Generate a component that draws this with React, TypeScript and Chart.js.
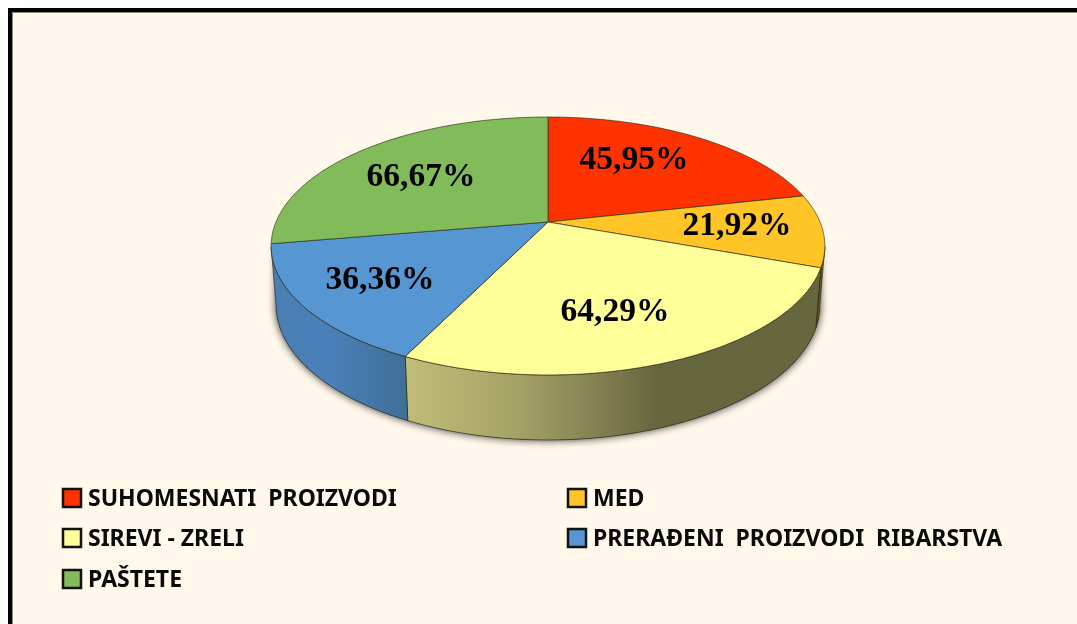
import React, { useEffect, useRef } from "react";
import { Chart, registerables } from "chart.js";

Chart.register(...registerables);

const categories = [
  "SUHOMESNATI  PROIZVODI",
  "MED",
  "SIREVI - ZRELI",
  "PRERAĐENI  PROIZVODI  RIBARSTVA",
  "PAŠTETE",
];
// Percentages printed on the slices.
const printedPercent = [45.95, 21.92, 64.29, 36.36, 66.67];
// Share of the circle each wedge takes in the picture (measured from the wedge edges).
const wedgeShare = [21.5, 9.1, 26.6, 15.1, 27.7];
const topColors = ["#FF3300", "#FFC425", "#FFFF99", "#5596D3", "#82BB5A"];

// Wall shading per slice: [x offset from hub, colour] stops.
const wallStops: [number, string][][] = [
  [[0, "#7a2000"]],
  [[240, "#6b5a1c"], [290, "#6b5a1c"]],
  [[-142, "#C0BD78"], [-30, "#A5A267"], [60, "#7E7C4E"], [110, "#66663F"], [280, "#66663F"]],
  [[-276, "#4A7FB5"], [-220, "#4A80B8"], [-142, "#3F7098"]],
  [[0, "#4a7030"]],
];
// Label centres relative to the hub.
const labelOffsets: [number, number][] = [[86, -62], [189, 4], [67, 90], [-168, 58], [-127, -45]];
// Legend grid: [swatch x, swatch top].
const legendSlots: [number, number][] = [[63, 489], [568, 489], [63, 529], [568, 529], [63, 570]];

const TILT = 0.186;
const SCALE_X = 0.982;
const SCALE_Y = 0.4495;
const RIM_DY = 24;
const RIM_RY = 129;
const BASE_DY = 83;
const BASE_RX = 272;
const BASE_RY = 135;

function project(arc: any, a: number): [number, number] {
  const u = Math.cos(a);
  const v = Math.sin(a);
  const d = 1 - TILT * v;
  return [arc.x + (arc.outerRadius * SCALE_X * u) / d, arc.y + (arc.outerRadius * SCALE_Y * v) / d];
}

function wallPoint(arc: any, p: [number, number]): [number, number] | null {
  const c = (p[0] - arc.x) / arc.outerRadius;
  const s = (p[1] - arc.y - RIM_DY) / RIM_RY;
  if (s < 0) return null;
  return [arc.x + c * BASE_RX, arc.y + BASE_DY + s * BASE_RY];
}

function samples(arc: any): [number, number][] {
  const n = Math.max(2, Math.ceil((arc.endAngle - arc.startAngle) / 0.008));
  const pts: [number, number][] = [];
  for (let i = 0; i <= n; i++) pts.push(project(arc, arc.startAngle + ((arc.endAngle - arc.startAngle) * i) / n));
  return pts;
}

const pie3d = {
  id: "pie3d",
  beforeDatasetDraw(chart: any) {
    const { ctx } = chart;
    const arcs = chart.getDatasetMeta(0).data;
    const hub = arcs[0];

    // Soft shadow behind the wall
    ctx.save();
    ctx.shadowColor = "rgba(0,0,0,0.85)";
    ctx.shadowBlur = 8;
    ctx.fillStyle = "#444";
    ctx.beginPath();
    ctx.moveTo(hub.x - hub.outerRadius + 6, hub.y + RIM_DY);
    ctx.lineTo(hub.x + hub.outerRadius - 6, hub.y + RIM_DY);
    ctx.lineTo(hub.x + BASE_RX, hub.y + BASE_DY);
    ctx.ellipse(hub.x, hub.y + BASE_DY, BASE_RX, BASE_RY, 0, 0, Math.PI);
    ctx.closePath();
    ctx.fill();
    ctx.restore();

    // Walls
    arcs.forEach((arc: any, i: number) => {
      const top: [number, number][] = [];
      const base: [number, number][] = [];
      samples(arc).forEach((p) => {
        const b = wallPoint(arc, p);
        if (b) {
          top.push(p);
          base.push(b);
        }
      });
      if (top.length < 2) return;
      const stops = wallStops[i];
      const x0 = arc.x + stops[0][0];
      const x1 = arc.x + stops[stops.length - 1][0];
      const g = ctx.createLinearGradient(x0, 0, Math.max(x1, x0 + 1), 0);
      stops.forEach(([x, c]) => g.addColorStop((arc.x + x - x0) / Math.max(x1 - x0, 1), c));
      ctx.beginPath();
      top.forEach((p, k) => (k ? ctx.lineTo(p[0], p[1]) : ctx.moveTo(p[0], p[1])));
      base.reverse().forEach((p) => ctx.lineTo(p[0], p[1]));
      ctx.closePath();
      ctx.fillStyle = g;
      ctx.fill();
      ctx.strokeStyle = "rgba(40,40,20,0.65)";
      ctx.lineWidth = 1;
      ctx.stroke();
    });

    // Top faces
    arcs.forEach((arc: any) => {
      ctx.beginPath();
      ctx.moveTo(arc.x, arc.y);
      samples(arc).forEach((p) => ctx.lineTo(p[0], p[1]));
      ctx.closePath();
      ctx.fillStyle = arc.options.backgroundColor;
      ctx.fill();
      ctx.strokeStyle = "rgba(50,50,30,0.7)";
      ctx.lineWidth = 1;
      ctx.stroke();
    });
    return false;
  },
  afterDatasetsDraw(chart: any) {
    const { ctx } = chart;
    const arcs = chart.getDatasetMeta(0).data;
    ctx.save();

    // Slice labels
    ctx.fillStyle = "#000";
    ctx.font = 'bold 33.5px "Liberation Serif"';
    ctx.textAlign = "center";
    ctx.textBaseline = "middle";
    arcs.forEach((arc: any, i: number) => {
      const text = printedPercent[i].toFixed(2).replace(".", ",") + "%";
      ctx.fillText(text, arc.x + labelOffsets[i][0], arc.y + labelOffsets[i][1]);
    });

    // Legend
    ctx.textAlign = "left";
    ctx.textBaseline = "alphabetic";
    ctx.font = 'bold 23px "Noto Sans"';
    chart.data.labels.forEach((label: string, i: number) => {
      const [x, y] = legendSlots[i];
      ctx.fillStyle = topColors[i];
      ctx.fillRect(x, y, 18, 18);
      ctx.strokeStyle = "#111";
      ctx.lineWidth = 2.5;
      ctx.strokeRect(x, y, 18, 18);
      ctx.fillStyle = "#0a0a0a";
      ctx.fillText(label, x + 25, y + 17);
    });
    ctx.restore();
  },
};

export default function App() {
  const ref = useRef<HTMLCanvasElement | null>(null);
  useEffect(() => {
    const chart = new Chart(ref.current as HTMLCanvasElement, {
      type: "pie",
      data: {
        labels: categories,
        datasets: [{ data: wedgeShare, backgroundColor: topColors, borderWidth: 0, clip: false } as any],
      },
      options: {
        animation: false,
        responsive: false,
        radius: 277,
        layout: { padding: { left: 19, bottom: 180 } },
        plugins: { legend: { display: false }, tooltip: { enabled: false } },
      } as any,
      plugins: [pie3d],
    });
    return () => chart.destroy();
  }, []);
  return (
    <div style={{ position: "fixed", inset: 0, background: "#fff", overflow: "hidden" }}>
      <div
        style={{
          position: "absolute",
          left: 8,
          top: 8,
          right: 0,
          bottom: 0,
          background: "#FFF8EB",
          borderTop: "4px solid #000",
          borderLeft: "4px solid #000",
          boxShadow: "inset 1px 1px 0 #8a8a80",
        }}
      />
      <canvas ref={ref} width={1077} height={624} style={{ position: "absolute", left: 0, top: 0, display: "block" }} />
    </div>
  );
}
